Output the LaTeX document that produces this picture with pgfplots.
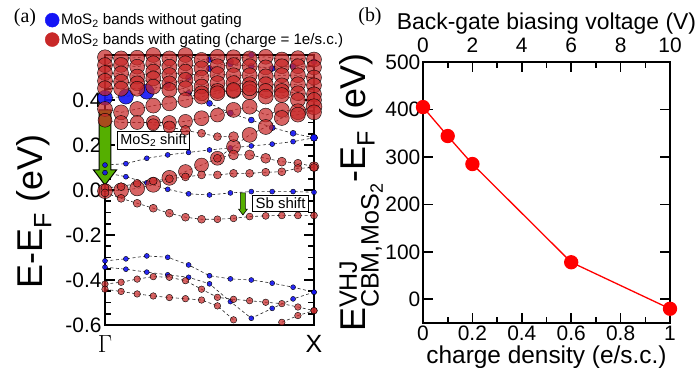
\documentclass[border=0pt]{standalone}
\usepackage{fontspec}
\setmainfont{Liberation Sans}
\newfontfamily\timesfont{Liberation Serif}
\usepackage{amsmath}
\usepackage{pgfplots}
\usepackage{pgfplotstable}
\pgfplotsset{compat=1.18}

\definecolor{gatedred}{RGB}{200,40,40}
\definecolor{plainblue}{RGB}{20,20,245}
\definecolor{shiftgreen}{RGB}{85,175,0}
\newcommand{\fs}[1]{\fontsize{#1}{#1}\selectfont}

% ---------- bands with gating (13 segments from Gamma to X) ----------
\pgfplotstableread{
x y r
0 0.590 7.5
0.077 0.585 7.5
0.154 0.588 7.5
0.231 0.600 7.5
0.308 0.585 7.5
0.385 0.600 7.5
0.462 0.578 7.5
0.538 0.592 7.5
0.615 0.590 7.5
0.692 0.585 7.5
0.769 0.592 7.5
0.846 0.580 7.5
0.923 0.586 7.5
1 0.580 7.5
}\gA
\pgfplotstableread{
x y r
0 0.555 7.5
0.077 0.556 7.5
0.154 0.548 7.5
0.231 0.563 7.5
0.308 0.548 7.5
0.385 0.563 7.5
0.462 0.541 7.5
0.538 0.550 7.5
0.615 0.555 7.5
0.692 0.550 7.5
0.769 0.545 7.5
0.846 0.550 7.5
0.923 0.550 7.5
1 0.545 7.5
}\gB
\pgfplotstableread{
x y r
0 0.520 7.5
0.077 0.518 7.5
0.154 0.504 7.5
0.231 0.526 7.5
0.308 0.511 7.5
0.385 0.526 7.5
0.462 0.500 7.5
0.538 0.515 7.5
0.615 0.510 7.5
0.692 0.510 7.5
0.769 0.505 7.5
0.846 0.510 7.5
0.923 0.510 7.5
1 0.500 7.5
}\gC
\pgfplotstableread{
x y r
0 0.485 7.5
0.077 0.481 7.5
0.154 0.474 7.5
0.231 0.496 7.5
0.308 0.474 7.5
0.385 0.489 7.5
0.462 0.460 7.5
0.538 0.475 7.5
0.615 0.475 7.5
0.692 0.470 7.5
0.769 0.470 7.5
0.846 0.465 7.5
0.923 0.470 7.5
1 0.465 7.5
}\gD
\pgfplotstableread{
x y r
0 0.452 7.5
0.077 0.450 7.5
0.154 0.450 7.5
0.231 0.459 7.5
0.308 0.444 7.5
0.385 0.452 7.5
0.462 0.430 7.5
0.538 0.440 7.5
0.615 0.440 7.5
0.692 0.435 7.5
0.769 0.440 7.5
0.846 0.440 7.5
0.923 0.430 7.5
1 0.425 7.5
}\gE
\pgfplotstableread{
x y r
0 0.360 7.5
0.077 0.345 7.5
0.154 0.360 7.5
0.231 0.375 7.5
0.308 0.385 7.5
0.385 0.400 7.5
0.462 0.415 7.5
0.538 0.430 7.5
0.615 0.444 7.5
0.692 0.452 7.5
0.769 0.415 7.5
0.846 0.422 7.5
0.923 0.400 7.5
1 0.400 7.5
}\gF
\pgfplotstableread{
x y r
0 0.310 7
0.077 0.300 7
0.154 0.300 7
0.231 0.300 7
0.308 0.300 7
0.385 0.305 7
0.462 0.319 7.5
0.538 0.333 7
0.615 0.356 7.5
0.692 0.370 7.5
0.769 0.333 7
0.846 0.356 7.5
0.923 0.348 8
1 0.370 8
}\gG
% conduction band minimum of MoS2
\pgfplotstableread{
x y r
0 -0.005 7.5
0.077 -0.002 7.5
0.154 0.007 7.5
0.231 0.023 7.5
0.308 0.054 7.5
0.385 0.082 7
0.462 0.111 7
0.538 0.141 7
0.615 0.193 7
0.692 0.245 7.5
0.769 0.280 7.5
0.846 0.320 7.5
0.923 0.335 7.5
1 0.345 7.5
}\gCB
\pgfplotstableread{
x y r
0.231 0.290 6
0.308 0.280 6
0.385 0.265 5
0.462 0.252 4
0.538 0.237 4
0.615 0.237 5
}\gH
\pgfplotstableread{
x y r
0.538 0.141 4
0.615 0.156 5
0.692 0.156 5
0.769 0.141 5
0.846 0.126 4.5
0.923 0.119 4
1 0.104 5
}\gI
% Sb bands
\pgfplotstableread{
x y r
0 0.010 4
0.077 0.015 4
0.154 0.030 4
0.231 0.040 4
0.308 0.050 4
0.385 0.058 4
0.462 0.067 4
0.538 0.067 4
0.615 0.074 4
0.692 0.074 4
0.769 0.079 4
0.846 0.081 4
0.923 0.096 4
1 0.100 4
}\gJ
\pgfplotstableread{
x y r
0 -0.013 4
0.077 -0.037 4
0.154 -0.059 4
0.231 -0.081 4
0.308 -0.103 4
0.385 -0.121 4
0.462 -0.130 4
0.538 -0.130 3.5
0.615 -0.126 3.5
0.692 -0.118 3.5
0.769 -0.115 3.5
0.846 -0.113 3.5
0.923 -0.113 3.5
1 -0.113 3.5
}\gK
\pgfplotstableread{
x y r
0 -0.418 3.3
0.077 -0.410 3.3
0.154 -0.396 3.3
0.231 -0.385 3.3
0.308 -0.388 3.3
0.385 -0.403 3.3
0.462 -0.441 3.3
0.538 -0.477 3.3
0.615 -0.486 3.3
0.692 -0.492 3.3
0.769 -0.499 3.3
0.846 -0.505 3.3
0.923 -0.520 3.3
1 -0.536 3.3
}\gL
\pgfplotstableread{
x y r
0 -0.441 3.3
0.077 -0.451 3.3
0.154 -0.462 3.3
0.231 -0.471 3.3
0.308 -0.478 3.3
0.385 -0.483 3.3
0.462 -0.489 3.3
0.538 -0.515 3.3
0.615 -0.577 3.3
}\gM
\pgfplotstableread{
x y r
0.846 -0.588 3.3
0.923 -0.558 3.3
1 -0.536 3.3
}\gN

% ---------- bands without gating (10 segments from Gamma to X) ----------
\pgfplotstableread{
x y r
0 0.410 7.5
0.1 0.415 7.5
0.2 0.437 7.5
0.3 0.465 3
0.4 0.500 3
0.5 0.540 3
0.6 0.570 3
0.7 0.600 3
}\pA
\pgfplotstableread{
x y r
0.3 0.470 3
0.4 0.430 3
0.5 0.385 3
0.6 0.342 3
0.7 0.311 3
0.8 0.277 3
0.9 0.252 3
1 0.232 3.5
}\pB
\pgfplotstableread{
x y r
0 0.111 2.5
0.1 0.117 2.5
0.2 0.141 2.5
0.3 0.156 2.5
0.4 0.167 2.5
0.5 0.178 2.5
0.6 0.187 2.5
0.7 0.196 2.5
0.8 0.204 2.5
0.9 0.215 2.5
1 0.232 3.5
}\pC
\pgfplotstableread{
x y r
0 0.077 2.5
0.1 0.059 2.5
0.2 0.032 2.5
0.3 0.003 2.5
0.4 -0.017 2.5
0.5 -0.022 2.5
0.6 -0.013 2.5
0.7 -0.007 2.5
0.8 -0.007 2.5
0.9 -0.007 2.5
1 -0.010 2.5
}\pD
\pgfplotstableread{
x y r
0.5 0.580 3
0.6 0.560 3
0.7 0.550 3
0.8 0.540 3
0.9 0.550 3
1 0.570 3
}\pE
\pgfplotstableread{
x y r
0 -0.315 2.5
0.1 -0.306 2.5
0.2 -0.293 2.5
0.3 -0.299 2.5
0.4 -0.333 2.5
0.5 -0.381 2.5
0.6 -0.395 2.5
0.7 -0.400 2.5
0.8 -0.414 2.5
0.9 -0.432 2.5
1 -0.454 2.5
}\pF
\pgfplotstableread{
x y r
0 -0.343 2.5
0.1 -0.352 2.5
0.2 -0.365 2.5
0.3 -0.377 2.5
0.4 -0.388 2.5
0.5 -0.417 2.5
0.6 -0.496 2.5
0.7 -0.570 2.5
0.8 -0.526 2.5
0.9 -0.484 2.5
1 -0.454 2.5
}\pG

\pgfplotsset{
  gated/.style={forget plot, scatter, only marks, mark=*,
    scatter/use mapped color={draw=none, fill=gatedred, fill opacity=0.72},
    visualization depends on={\thisrow{r}\as\rad},
    scatter/@pre marker code/.append style={/tikz/mark size=\rad}},
  plain/.style={forget plot, scatter, only marks, mark=*,
    scatter/use mapped color={draw=none, fill=plainblue, fill opacity=0.9},
    visualization depends on={\thisrow{r}\as\rad},
    scatter/@pre marker code/.append style={/tikz/mark size=\rad}},
  bandline/.style={forget plot, no marks, black!85, line width=0.6bp,
    dash pattern=on 3bp off 2.5bp},
  frame/.style={scale only axis, clip=false,
    axis line style={line width=2bp},
    tick style={line width=1.6bp, black},
    major tick length=10bp, minor tick length=6bp, tick align=inside,
    /pgf/number format/assume math mode=true,
    tick label style={font=\fs{21}}},
}

\begin{document}
\begin{tikzpicture}
% ---------------- panel (a): band structure ----------------
\begin{axis}[frame,
  at={(105bp,43bp)}, anchor=south west, width=209bp, height=270bp,
  xmin=0, xmax=1, ymin=-0.6, ymax=0.6,
  xtick={0,1}, xticklabels={$\Gamma$,X}, major x tick style={draw=none},
  xticklabel style={font=\fs{25}, yshift=-7bp},
  ytick={-0.6,-0.4,-0.2,0,0.2,0.4,0.6}, minor y tick num=3,
  yticklabels={-0.6,-0.4,-0.2,0.0,0.2,0.4,{}}, yticklabel pos=left,
  ylabel={E-E\textsubscript{F} (eV)},
  ylabel style={font=\fs{36}, at={(rel axis cs:-0.34,0.42)}, anchor=center},
  legend style={at={(rel axis cs:0,1)}, anchor=south west, xshift=-60bp, yshift=7bp,
    draw=none, fill=none, font=\fs{15.2}, row sep=3bp, inner sep=0pt},
  legend cell align=left,
]
\addlegendimage{only marks, mark=*, mark size=7bp, plainblue}
\addlegendentry{MoS\textsubscript{2} bands without gating}
\addlegendimage{only marks, mark=*, mark size=7bp, gatedred}
\addlegendentry{MoS\textsubscript{2} bands with gating (charge = 1e/s.c.)}

% bands without gating
\addplot[plain] table {\pA};
\addplot[plain] table {\pB};
\addplot[plain] table {\pC};
\addplot[plain] table {\pD};
\addplot[plain] table {\pE};
\addplot[plain] table {\pF};
\addplot[plain] table {\pG};
% bands with gating
\addplot[gated] table {\gA};
\addplot[gated] table {\gB};
\addplot[gated] table {\gC};
\addplot[gated] table {\gD};
\addplot[gated] table {\gE};
\addplot[gated] table {\gF};
\addplot[gated] table {\gG};
\addplot[gated] table {\gCB};
\addplot[gated] table {\gH};
\addplot[gated] table {\gI};
\addplot[gated] table {\gJ};
\addplot[gated] table {\gK};
\addplot[gated] table {\gL};
\addplot[gated] table {\gM};
\addplot[gated] table {\gN};
% band lines
\addplot[bandline] table {\pA};
\addplot[bandline] table {\pB};
\addplot[bandline] table {\pC};
\addplot[bandline] table {\pD};
\addplot[bandline] table {\pE};
\addplot[bandline] table {\pF};
\addplot[bandline] table {\pG};
\addplot[bandline] table {\gA};
\addplot[bandline] table {\gB};
\addplot[bandline] table {\gC};
\addplot[bandline] table {\gD};
\addplot[bandline] table {\gE};
\addplot[bandline] table {\gF};
\addplot[bandline] table {\gG};
\addplot[bandline] table {\gCB};
\addplot[bandline] table {\gH};
\addplot[bandline] table {\gI};
\addplot[bandline] table {\gJ};
\addplot[bandline] table {\gK};
\addplot[bandline] table {\gL};
\addplot[bandline] table {\gM};
\addplot[bandline] table {\gN};

% shift of the MoS2 bands
\draw[fill=shiftgreen, draw=black, line width=1bp]
  (axis cs:-0.028,0.356) -- (axis cs:0.028,0.356) -- (axis cs:0.028,0.089)
  -- (axis cs:0.055,0.089) -- (axis cs:0,0.022) -- (axis cs:-0.055,0.089)
  -- (axis cs:-0.028,0.089) -- cycle;
\node[draw=black, fill=white, line width=0.8bp, font=\fs{14.5}, inner xsep=3bp, inner ysep=2.5bp]
  at (axis cs:0.232,0.22) {MoS\textsubscript{2} shift};
% shift of the Sb bands
\draw[fill=shiftgreen, draw=black, line width=0.6bp]
  (axis cs:0.648,-0.013) -- (axis cs:0.672,-0.013) -- (axis cs:0.672,-0.085)
  -- (axis cs:0.681,-0.085) -- (axis cs:0.66,-0.111) -- (axis cs:0.639,-0.085)
  -- (axis cs:0.648,-0.085) -- cycle;
\node[draw=black, fill=white, line width=0.8bp, font=\fs{15}, inner xsep=3bp, inner ysep=2.5bp]
  at (axis cs:0.84,-0.06) {Sb shift};
\end{axis}

% ---------------- panel (b): CBM offset vs charge ----------------
\begin{axis}[frame,
  at={(423bp,45bp)}, anchor=south west, width=247bp, height=261bp,
  xmin=0, xmax=1, ymin=-50, ymax=500,
  xtick={0,0.2,0.4,0.6,0.8,1}, minor x tick num=1, xtick pos=left,
  xticklabel style={inner sep=1bp, yshift=-1.5bp},
  ytick={0,100,200,300,400,500}, yticklabel pos=left,
  yticklabel style={inner xsep=2.5bp, inner ysep=0bp},
  xlabel={charge density (e/s.c.)},
  xlabel style={font=\fs{24.5}, at={(rel axis cs:0.5,0)}, anchor=north, inner sep=1bp, yshift=-21.5bp},
  ylabel={E$^{\text{VHJ}}_{\text{CBM,MoS}_{\text{2}}}$-E\textsubscript{F} (eV)},
  ylabel style={font=\fs{36}, at={(rel axis cs:-0.25,0.5)}, anchor=center},
]
\addplot[red, line width=1.3bp, mark=*, mark size=6.5bp, mark options={fill=red}]
  coordinates {(0,405) (0.1,344) (0.2,285) (0.6,78) (1,-20)};
\end{axis}
\begin{axis}[frame,
  at={(423bp,45bp)}, anchor=south west, width=247bp, height=261bp,
  xmin=0, xmax=10, ymin=0, ymax=1,
  axis x line*=top, axis y line=none,
  xtick={0,2,4,6,8,10}, minor x tick num=1,
  xticklabel style={inner sep=1bp, yshift=8bp},
  xlabel={Back-gate biasing voltage (V)},
  xlabel style={font=\fs{23}, yshift=-1bp},
]
\end{axis}

\node[font=\timesfont\fs{20}] at (25bp,350bp) {(a)};
\node[font=\timesfont\fs{20}] at (370bp,351bp) {(b)};

\pgfresetboundingbox
\useasboundingbox (0,0) rectangle (697bp,368bp);
\end{tikzpicture}
\end{document}
